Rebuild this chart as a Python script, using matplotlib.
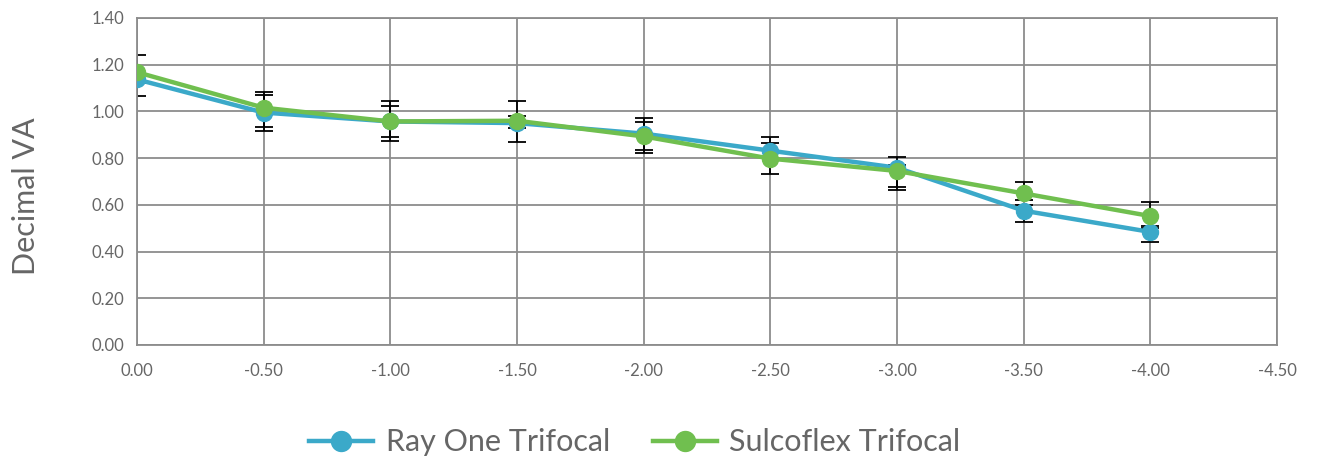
import matplotlib.pyplot as plt

# defocus (D) and decimal VA
defocus = [0.0, -0.5, -1.0, -1.5, -2.0, -2.5, -3.0, -3.5, -4.0]

ray_one = [1.137, 0.995, 0.957, 0.950, 0.905, 0.832, 0.759, 0.575, 0.484]
ray_one_upper = [1.17, 1.070, 1.023, 0.98, 0.956, 0.889, 0.806, 0.60, 0.51]
ray_one_lower = [1.066, 0.917, 0.873, 0.93, 0.821, 0.80, 0.678, 0.528, 0.442]

sulcoflex = [1.168, 1.016, 0.957, 0.960, 0.893, 0.798, 0.745, 0.649, 0.552]
sulcoflex_upper = [1.242, 1.084, 1.045, 1.045, 0.971, 0.864, 0.77, 0.699, 0.614]
sulcoflex_lower = [1.12, 0.933, 0.892, 0.870, 0.835, 0.732, 0.664, 0.62, 0.50]

xticks = [0.0, -0.5, -1.0, -1.5, -2.0, -2.5, -3.0, -3.5, -4.0, -4.5]
yticks = [0.0, 0.2, 0.4, 0.6, 0.8, 1.0, 1.2, 1.4]

blue = '#3BA9C9'
green = '#70BF4F'
gridc = '#8c8c8c'
txt = '#666666'

plt.rcParams['font.family'] = ['Lato', 'DejaVu Sans']

fig = plt.figure(figsize=(13.17, 4.59), dpi=100)
ax = fig.add_axes([0.104, 0.2484, 0.8656, 0.7124])

def err(vals, up, lo):
    return [[v - l for v, l in zip(vals, lo)], [u - v for v, u in zip(vals, up)]]

ax.errorbar(defocus, ray_one, yerr=err(ray_one, ray_one_upper, ray_one_lower),
            fmt='none', ecolor='black', elinewidth=1.3, capsize=6.5, capthick=1.3, zorder=2)
ax.errorbar(defocus, sulcoflex, yerr=err(sulcoflex, sulcoflex_upper, sulcoflex_lower),
            fmt='none', ecolor='black', elinewidth=1.3, capsize=6.5, capthick=1.3, zorder=2)

ax.plot(defocus, ray_one, color=blue, lw=3.2, marker='o', ms=11.5, label='Ray One Trifocal', zorder=3)
ax.plot(defocus, sulcoflex, color=green, lw=3.2, marker='o', ms=11.5, label='Sulcoflex Trifocal', zorder=4)

ax.set_xlim(0, -4.5)
ax.set_ylim(0, 1.4)
ax.set_xticks(xticks)
ax.set_xticklabels(['%.2f' % t if t != 0 else '0.00' for t in xticks])
ax.set_yticks(yticks)
ax.set_yticklabels(['%.2f' % t for t in yticks])
ax.tick_params(length=0, labelsize=12, colors=txt)
ax.tick_params(axis='x', pad=13)
ax.tick_params(axis='y', pad=9)
ax.grid(True, color=gridc, lw=1.3)
ax.set_axisbelow(True)
for s in ax.spines.values():
    s.set_color(gridc)
    s.set_linewidth(1.3)

ax.set_ylabel('Decimal VA', fontsize=22, color=txt)
ax.yaxis.set_label_coords(-0.085, 0.455)

fig.legend(loc='center', bbox_to_anchor=(0.482, 0.036), ncol=2, frameon=False,
           fontsize=22, labelcolor=txt, handlelength=2.1, columnspacing=1.4,
           handletextpad=0.4, markerscale=1.25)

fig.savefig('out.png', dpi=100)
